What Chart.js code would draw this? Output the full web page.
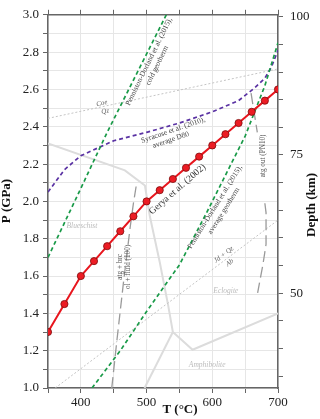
<!DOCTYPE html>
<html>
<head>
<meta charset="utf-8">
<script src="https://cdn.jsdelivr.net/npm/chart.js@4.4.1/dist/chart.umd.min.js"></script>
<style>
  html, body { margin: 0; padding: 0; background: #fff; }
  #wrap { width: 320px; height: 419px; position: relative; }
</style>
</head>
<body>
<div id="wrap"><canvas id="chart"></canvas></div>
<script>
// Gerya et al. (2002) path
const geryaT = [350, 375, 400, 420, 440, 460, 480, 500, 520, 540, 560, 580, 600, 620, 640, 660, 680, 700];
const geryaP = [1.30, 1.45, 1.60, 1.68, 1.76, 1.84, 1.92, 2.00, 2.06, 2.12, 2.18, 2.24, 2.30, 2.36, 2.42, 2.48, 2.54, 2.60];

// Penniston-Dorland et al. (2015) geotherms
const coldT = [350, 400, 440, 480, 530];
const coldP = [1.70, 2.07, 2.37, 2.65, 3.00];
const avgT = [417, 460, 500, 550, 590, 630, 650, 680, 700];
const avgP = [1.00, 1.20, 1.41, 1.66, 1.93, 2.21, 2.35, 2.62, 2.85];

// Syracuse et al. (2010), average D80
const syrT = [350, 375, 400, 450, 500, 550, 600, 640, 665, 680, 690, 700];
const syrP = [2.05, 2.17, 2.245, 2.325, 2.37, 2.42, 2.48, 2.54, 2.61, 2.66, 2.72, 2.81];

// reactions
const coeQzT = [350, 700];
const coeQzP = [2.445, 2.71];
const jdAbT = [361, 700];
const jdAbP = [1.00, 1.90];
const atgBrcT = [447, 455, 465, 475, 480, 485];
const atgBrcP = [1.00, 1.26, 1.57, 1.86, 1.99, 2.10];
const atgOutT = [659, 664, 668.5, null, 680, 681.8, 681.8, 677, 669];
const atgOutP = [2.58, 2.47, 2.37, null, 1.99, 1.94, 1.77, 1.66, 1.51];

// facies boundaries
const bsEcT = [350, 467, 497.5, 505, 520, 533, 540];
const bsEcP = [2.31, 2.166, 2.085, 1.92, 1.675, 1.44, 1.30];
const bsAmT = [497, 540];
const bsAmP = [1.00, 1.30];
const ecAmT = [540, 570, 700];
const ecAmP = [1.30, 1.205, 1.40];

// axis ranges
const tMin = 350, tMax = 700;
const pMin = 1.0, pMax = 3.0;
const depthMin = 32.84, depthMax = 100.36;

const pts = (ts, ps) => ts.map((t, i) => ({ x: t, y: ps[i] }));

const serif = "'Liberation Serif', 'Times New Roman', serif";

// text notes placed in data units
const notes = [
    { text: "Coe", t: 432, p: 2.526, rot: -12, color: "#666", italic: true, size: 7 },
    { text: "Qz", t: 437, p: 2.482, rot: -12, color: "#666", italic: true, size: 7 },
    { text: "Penniston-Dorland et al. (2015),", t: 503.7, p: 2.749, rot: -64, color: "#444", size: 7.5 },
    { text: "cold geotherm", t: 516, p: 2.728, rot: -64, color: "#444", size: 7.5 },
    { text: "Syracuse et al. (2010),", t: 540.6, p: 2.382, rot: -19, color: "#444", size: 7.5 },
    { text: "average D80", t: 537, p: 2.329, rot: -19, color: "#444", size: 7.5 },
    { text: "Gerya et al. (2002)", t: 547, p: 2.065, rot: -41, color: "#333", size: 9.5 },
    { text: "Penniston-Dorland et al. (2015),", t: 604, p: 1.97, rot: -58, color: "#444", size: 7.5 },
    { text: "average geotherm", t: 617.6, p: 1.949, rot: -58, color: "#444", size: 7.5 },
    { text: "atg out (PN10)", t: 676.8, p: 2.244, rot: -90, color: "#555", size: 7.2 },
    { text: "atg + brc", t: 459.7, p: 1.649, rot: -90, color: "#555", size: 7.2 },
    { text: "ol + fluid (100)", t: 472.3, p: 1.649, rot: -90, color: "#555", size: 7.2 },
    { text: "Jd + Qz", t: 617.4, p: 1.714, rot: -37, color: "#666", italic: true, size: 7 },
    { text: "Ab", t: 626.5, p: 1.672, rot: -37, color: "#666", italic: true, size: 7 },
    { text: "Blueschist", t: 401.6, p: 1.868, rot: 0, color: "#bbb", italic: true, size: 7.5 },
    { text: "Eclogite", t: 620.6, p: 1.521, rot: 0, color: "#bbb", italic: true, size: 7.5 },
    { text: "Amphibolite", t: 592.2, p: 1.123, rot: 0, color: "#bbb", italic: true, size: 7.5 }
];

const notesPlugin = {
    id: "notes",
    afterDatasetsDraw(chart) {
        const ctx = chart.ctx;
        const xs = chart.scales.x, ys = chart.scales.y;
        ctx.save();
        ctx.textAlign = "center";
        ctx.textBaseline = "middle";
        notes.forEach(n => {
            ctx.save();
            ctx.translate(xs.getPixelForValue(n.t), ys.getPixelForValue(n.p));
            ctx.rotate(n.rot * Math.PI / 180);
            ctx.font = (n.italic ? "italic " : "") + n.size + "px " + serif;
            ctx.fillStyle = n.color;
            ctx.fillText(n.text, 0, 0);
            ctx.restore();
        });
        ctx.restore();
    },
    afterDraw(chart) {
        const ctx = chart.ctx;
        ctx.save();
        ctx.fillStyle = "#111";
        ctx.font = "bold 13px " + serif;
        ctx.textAlign = "center";
        ctx.textBaseline = "middle";
        ctx.fillText("T (°C)", 180, 410);
        ctx.save();
        ctx.translate(7, 201);
        ctx.rotate(-Math.PI / 2);
        ctx.fillText("P (GPa)", 0, 0);
        ctx.restore();
        ctx.save();
        ctx.translate(312, 205);
        ctx.rotate(-Math.PI / 2);
        ctx.fillText("Depth (km)", 0, 0);
        ctx.restore();
        ctx.restore();
    }
};

const tickFont = { family: serif, size: 13 };
const axisGrey = "#666";

new Chart(document.getElementById("chart"), {
    type: "scatter",
    data: {
        datasets: [
            {
                data: pts(geryaT, geryaP), showLine: true,
                borderColor: "#e8161e", borderWidth: 2,
                pointRadius: 3.6, pointBackgroundColor: "#ec1c24",
                pointBorderColor: "#7d0d0d", pointBorderWidth: 0.8
            },
            {
                data: pts(coldT, coldP), showLine: true, pointRadius: 0,
                borderColor: "#199a48", borderWidth: 1.7, borderDash: [4, 3]
            },
            {
                data: pts(avgT, avgP), showLine: true, pointRadius: 0,
                borderColor: "#199a48", borderWidth: 1.7, borderDash: [4, 3]
            },
            {
                data: pts(syrT, syrP), showLine: true, pointRadius: 0,
                borderColor: "#5a32a3", borderWidth: 1.7, borderDash: [4, 3]
            },
            {
                data: pts(atgBrcT, atgBrcP), showLine: true, pointRadius: 0,
                borderColor: "#9a9a9a", borderWidth: 1.3, borderDash: [11, 5]
            },
            {
                data: pts(atgOutT, atgOutP), showLine: true, pointRadius: 0, spanGaps: false,
                borderColor: "#9a9a9a", borderWidth: 1.3, borderDash: [11, 5]
            },
            {
                data: pts(coeQzT, coeQzP), showLine: true, pointRadius: 0,
                borderColor: "#c4c4c4", borderWidth: 1, borderDash: [2, 2]
            },
            {
                data: pts(jdAbT, jdAbP), showLine: true, pointRadius: 0,
                borderColor: "#c4c4c4", borderWidth: 1, borderDash: [2, 2]
            },
            {
                data: pts(bsEcT, bsEcP), showLine: true, pointRadius: 0,
                borderColor: "#dcdcdc", borderWidth: 2
            },
            {
                data: pts(bsAmT, bsAmP), showLine: true, pointRadius: 0,
                borderColor: "#dcdcdc", borderWidth: 2
            },
            {
                data: pts(ecAmT, ecAmP), showLine: true, pointRadius: 0,
                borderColor: "#dcdcdc", borderWidth: 2
            }
        ]
    },
    options: {
        responsive: true,
        maintainAspectRatio: false,
        animation: false,
        layout: { padding: 0 },
        plugins: { legend: { display: false }, tooltip: { enabled: false } },
        scales: {
            x: {
                type: "linear", position: "bottom", min: tMin, max: tMax,
                ticks: {
                    stepSize: 50, autoSkip: false, maxRotation: 0, color: "#222", font: tickFont, padding: 2,
                    callback: v => (v % 100 === 0 ? v : "")
                },
                grid: { color: "#e6e6e6", tickColor: axisGrey, tickLength: 5 },
                border: { color: axisGrey, width: 1.5 },
                afterFit: s => { s.height = 31; }
            },
            x2: {
                type: "linear", position: "top", min: tMin, max: tMax,
                ticks: { stepSize: 50, autoSkip: false, maxRotation: 0, callback: () => "" },
                grid: { drawOnChartArea: false, tickColor: axisGrey, tickLength: 5 },
                border: { color: axisGrey, width: 1.5 },
                afterFit: s => { s.height = 8; }
            },
            y: {
                type: "linear", position: "left", min: pMin, max: pMax,
                ticks: {
                    stepSize: 0.1, autoSkip: false, color: "#222", font: tickFont, padding: 4,
                    callback: v => (Math.round(v * 10) % 2 === 0 ? v.toFixed(1) : "")
                },
                grid: { color: "#e6e6e6", tickColor: axisGrey, tickLength: 5 },
                border: { color: axisGrey, width: 1.5 },
                afterFit: s => { s.width = 48; }
            },
            y2: {
                type: "linear", position: "right", min: depthMin, max: depthMax,
                ticks: {
                    stepSize: 5, includeBounds: false, autoSkip: false, color: "#222", font: tickFont, padding: 7,
                    callback: v => (Math.round(v) % 25 === 0 ? Math.round(v) : "")
                },
                grid: { drawOnChartArea: false, tickColor: axisGrey, tickLength: 5 },
                border: { color: axisGrey, width: 1.5 },
                afterFit: s => { s.width = 42; }
            }
        }
    },
    plugins: [notesPlugin]
});
</script>
</body>
</html>
